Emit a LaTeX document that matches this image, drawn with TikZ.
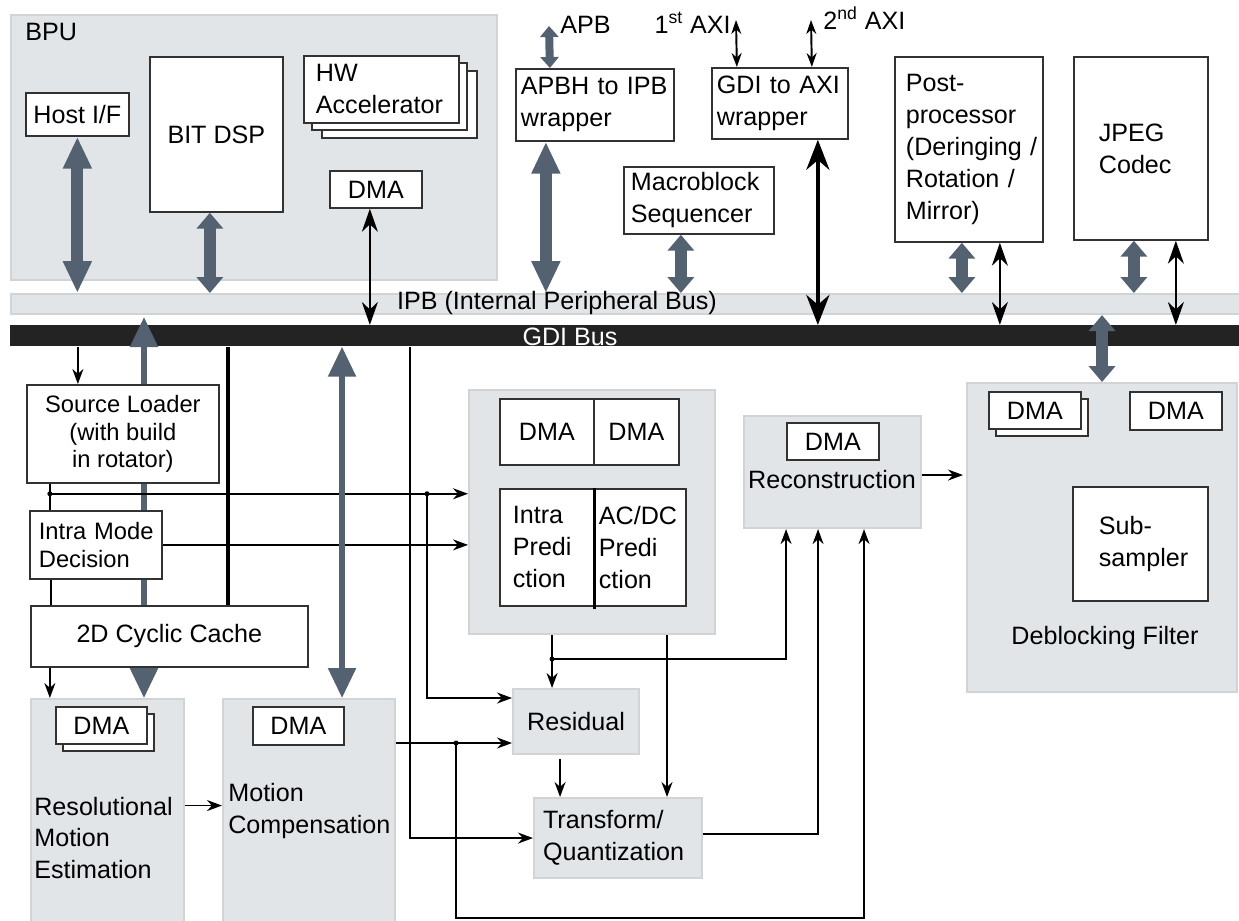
\documentclass[tikz,border=0pt]{standalone}
\usepackage{fontspec}
\setmainfont{Liberation Sans}
\usetikzlibrary{arrows.meta, shadows}
\definecolor{zonefill}{RGB}{225,229,231}
\definecolor{zoneline}{RGB}{208,212,214}
\definecolor{busgray}{RGB}{83,97,113}
\definecolor{busblack}{RGB}{35,35,35}
\definecolor{boxline}{RGB}{50,50,50}
\newcommand{\bodyfont}{\fontsize{14.3}{18.2}\selectfont}
\newcommand{\tightfont}{\fontsize{13.5}{15.6}\selectfont}

\begin{document}
\begin{tikzpicture}[
    x=0.02cm, y=-0.02cm,
    blk/.style={
        rectangle, draw=boxline, fill=white, line width=1pt,
        inner sep=0pt, font=\bodyfont,
    },
    zone/.style={
        rectangle, draw=zoneline, fill=zonefill, line width=1.2pt,
        inner sep=0pt, font=\bodyfont,
    },
    lbl/.style={inner sep=0pt, font=\bodyfont},
    bigbus/.style={{Triangle[width=0.54cm,length=0.64cm]}-{Triangle[width=0.54cm,length=0.64cm]},
        line width=0.24cm, draw=busgray},
    thinbus/.style={{Triangle[width=0.54cm,length=0.6cm]}-{Triangle[width=0.54cm,length=0.6cm]},
        line width=0.11cm, draw=busgray},
    smallbus/.style={{Triangle[width=0.52cm,length=0.32cm]}-{Triangle[width=0.52cm,length=0.32cm]},
        line width=0.24cm, draw=busgray},
    bilink/.style={{Stealth[length=0.46cm,width=0.32cm]}-{Stealth[length=0.46cm,width=0.32cm]},
        line width=1.3pt},
    axilink/.style={{Stealth[length=0.28cm,width=0.2cm]}-{Stealth[length=0.28cm,width=0.2cm]},
        line width=1.1pt},
    sig/.style={-{Stealth[length=0.3cm,width=0.22cm]}, line width=1pt},
    wire/.style={line width=1pt},
]
\useasboundingbox (0,0) rectangle (1239,920);

% --- Gray areas and the two buses ---
\node[zone, anchor=north west, minimum width=9.72cm, minimum height=5.30cm] (bpu) at (10,14) {};
\node[zone, anchor=north west, minimum width=24.8cm, minimum height=0.40cm] (ipb) at (10,293) {};
\node[fill=busblack, inner sep=0pt, anchor=north west, minimum width=24.8cm, minimum height=0.42cm] (gdi) at (10,325) {};
\node[zone, anchor=north west, minimum width=4.92cm, minimum height=4.88cm] (intra) at (468,389) {};
\node[zone, anchor=north west, minimum width=3.54cm, minimum height=2.24cm] (recon) at (743,415) {};
\node[zone, anchor=north west, minimum width=5.40cm, minimum height=6.18cm] (deblock) at (966,382) {};
\node[zone, anchor=north west, minimum width=3.06cm, minimum height=4.52cm] (rme) at (30,698) {};
\node[zone, anchor=north west, minimum width=3.44cm, minimum height=4.52cm] (mc) at (222,698) {};
\node[zone, anchor=north west, minimum width=2.52cm, minimum height=1.30cm] (residual) at (512,688) {Residual};
\node[zone, anchor=north west, minimum width=3.36cm, minimum height=1.60cm,
      align=left, text width=3.0cm] (transform) at (533,797) {Transform/\\Quantization};

\coordinate (gdiup) at ([yshift=0.16cm]gdi.north);
\coordinate (cachetap) at (144,666);

% --- Cache path to the bus, behind the boxes ---
\draw[thinbus] (cachetap |- rme.north) -- (cachetap |- gdiup);

% --- BPU ---
\node[blk, anchor=north west, minimum width=2.06cm, minimum height=0.86cm] (host) at (25,92) {Host I/F};
\node[blk, anchor=north west, minimum width=2.66cm, minimum height=3.10cm] (bitdsp) at (149,56) {BIT DSP};
\node[blk, anchor=north west, minimum width=3.10cm, minimum height=1.34cm, align=left, text width=2.62cm,
      copy shadow={shadow xshift=0.36cm, shadow yshift=-0.3cm},
      copy shadow={shadow xshift=0.16cm, shadow yshift=-0.14cm}] (hwacc) at (303,55) {HW\\Accelerator};
\node[blk, anchor=north west, minimum width=1.84cm, minimum height=0.74cm] (bpudma) at (329,170) {DMA};

% --- Top row ---
\node[blk, anchor=north west, minimum width=3.16cm, minimum height=1.44cm, align=left, text width=2.96cm] (apbh) at (515,68) {\mbox{APBH to IPB}\\wrapper};
\node[blk, anchor=north west, minimum width=2.72cm, minimum height=1.42cm, align=left, text width=2.52cm] (gdiaxi) at (711,67) {\mbox{GDI to AXI}\\wrapper};
\node[blk, anchor=north west, minimum width=3.00cm, minimum height=1.34cm, align=left, text width=2.72cm] (mbseq) at (623,166) {Macroblock\\Sequencer};
\node[blk, anchor=north west, minimum width=2.96cm, minimum height=3.70cm, align=left, text width=2.52cm] (post) at (894,56)
    {Post-\\processor\\\mbox{(Deringing /}\\\mbox{Rotation /}\\Mirror)};
\node[blk, anchor=north west, minimum width=2.68cm, minimum height=3.66cm, align=left, text width=1.68cm] (jpeg) at (1073,56) {JPEG\\Codec};

% --- Left column ---
\node[blk, anchor=north west, minimum width=3.84cm, minimum height=1.96cm, align=center, font=\tightfont] (srcload) at (26,384)
    {Source Loader\\(with build\\in rotator)};
\node[blk, anchor=north west, minimum width=2.64cm, minimum height=1.36cm, align=left, text width=2.28cm, font=\tightfont] (imd) at (29,510)
    {\mbox{Intra Mode}\\Decision};
\node[blk, anchor=north west, minimum width=5.54cm, minimum height=1.22cm] (cache) at (30,605) {2D Cyclic Cache};
\node[blk, anchor=north west, minimum width=1.82cm, minimum height=0.74cm,
      copy shadow={shadow xshift=0.14cm, shadow yshift=-0.14cm}] (rmedma) at (55,706) {DMA};
\node[blk, anchor=north west, minimum width=1.82cm, minimum height=0.76cm] (mcdma) at (252,706) {DMA};

% --- Intra prediction ---
\node[blk, anchor=north west, minimum width=1.88cm, minimum height=1.32cm] (dmaa) at (499,398) {DMA};
\node[blk, anchor=north west, minimum width=1.70cm, minimum height=1.32cm] (dmab) at (593,398) {DMA};
\node[blk, anchor=north west, minimum width=1.88cm, minimum height=2.34cm, align=left, text width=1.36cm] (ipred) at (499,488)
    {Intra\\Predi\\ction};
\node[blk, anchor=north west, minimum width=1.84cm, minimum height=2.34cm, align=left, text width=1.64cm] (acdc) at (593,488)
    {AC/DC\\Predi\\ction};
\draw[line width=1.6pt] (ipred.north east) -- ([yshift=-0.04cm]ipred.south east);

% --- Reconstruction and deblocking ---
\node[blk, anchor=north west, minimum width=1.84cm, minimum height=0.74cm] (recdma) at (786,422) {DMA};
\node[blk, anchor=north west, minimum width=1.84cm, minimum height=0.74cm,
      copy shadow={shadow xshift=0.14cm, shadow yshift=-0.14cm}] (dbdma) at (988,391) {DMA};
\node[blk, anchor=north west, minimum width=1.84cm, minimum height=0.76cm] (dbdmb) at (1129,391) {DMA};
\node[blk, anchor=north west, minimum width=2.70cm, minimum height=2.28cm, align=left, text width=1.66cm] (subs) at (1072,486)
    {Sub-\\sampler};

% --- Labels ---
\node[lbl, anchor=base west] (bpulbl) at (25,40) {BPU};
\node[lbl] (ipblbl) at (557,303) {IPB (Internal Peripheral Bus)};
\node[lbl, text=white] (gdilbl) at (570,337) {GDI Bus};
\node[lbl, anchor=base west] (apblbl) at (560,33) {APB};
\node[lbl, anchor=base east] (axi1lbl) at (731,33) {1\textsuperscript{st} AXI};
\node[lbl, anchor=base west] (axi2lbl) at (823,29) {2\textsuperscript{nd} AXI};
\node[lbl] (reclbl) at (832,480) {Reconstruction};
\node[lbl] (dblbl) at (1105,638) {Deblocking Filter};
\node[lbl, anchor=west, align=left] (rmelbl) at (34,838) {Resolutional\\Motion\\Estimation};
\node[lbl, anchor=west, align=left] (mclbl) at (228,811) {Motion\\Compensation};

% --- Bus links ---
\coordinate (apbend) at (549,26);
\coordinate (axi1end) at (736,20);
\coordinate (axi2end) at (811,20);
\draw[bigbus] (host.south) -- (host.south |- ipb.north);
\draw[smallbus] ([xshift=-0.13cm]bitdsp.south) -- ([xshift=-0.13cm]bitdsp.south |- ipb.north);
\draw[bilink] ([xshift=-0.12cm]bpudma.south) -- ([xshift=-0.12cm]bpudma.south |- gdi.north);
\draw[smallbus, line width=0.16cm, {Triangle[width=0.36cm,length=0.22cm]}-{Triangle[width=0.36cm,length=0.22cm]}]
    ([xshift=-0.90cm]apbh.north) -- (apbend);
\draw[bigbus] ([xshift=-0.98cm]apbh.south) -- ([xshift=-0.98cm]apbh.south |- ipb.north);
\draw[axilink] ([xshift=-0.86cm]gdiaxi.north) -- (axi1end);
\draw[axilink] ([xshift=0.64cm]gdiaxi.north) -- (axi2end);
\draw[{Stealth[length=0.6cm,width=0.46cm]}-{Stealth[length=0.6cm,width=0.46cm]}, line width=2.6pt]
    ([xshift=0.76cm]gdiaxi.south) -- ([xshift=0.76cm]gdiaxi.south |- gdi.north);
\draw[smallbus] ([xshift=-0.36cm]mbseq.south) -- ([xshift=-0.36cm]mbseq.south |- ipb.north);
\draw[smallbus] ([xshift=-0.14cm]post.south) -- ([xshift=-0.14cm]post.south |- ipb.north);
\draw[bilink] ([xshift=0.62cm]post.south) -- ([xshift=0.62cm]post.south |- gdi.north);
\draw[smallbus] ([xshift=-0.14cm]jpeg.south) -- ([xshift=-0.14cm]jpeg.south |- ipb.north);
\draw[bilink] ([xshift=0.70cm]jpeg.south) -- ([xshift=0.70cm]jpeg.south |- gdi.north);
\draw[smallbus] (deblock.north) -- (deblock.north |- ipb.south);

% --- Left column wiring ---
\draw[sig] ([xshift=-0.90cm]srcload.north |- gdi.south) -- ([xshift=-0.90cm]srcload.north);
\coordinate (split1) at ([xshift=-1.46cm,yshift=-0.2cm]srcload.south);
\coordinate (split2) at ([xshift=-0.82cm]split1 -| intra.west);
\draw[wire] ([xshift=-1.46cm]srcload.south) -- (split1 |- imd.north);
\draw[sig] (split1) -- (split1 -| intra.west);
\draw[sig] (split2) |- ([yshift=-0.2cm]residual.north west);
\draw[sig] (imd.east) -- (imd.east -| intra.west);
\draw[wire] ([xshift=-0.90cm]imd.south) -- ([xshift=-0.90cm]imd.south |- cache.north);
\draw[line width=2pt] ([xshift=1.17cm]cache.north |- gdi.south) -- ([xshift=1.17cm]cache.north);
\draw[sig] ([xshift=-2.39cm]cache.south) -- ([xshift=-2.39cm]cache.south |- rme.north);
\draw[thinbus] ([xshift=0.66cm]mc.north |- gdi.south) -- ([xshift=0.66cm]mc.north);
\draw[sig] ([xshift=0.28cm]mc.north east |- gdi.south) |- (transform.west);
\draw[sig] ([yshift=0.13cm]rme.east) -- ([yshift=0.13cm]rme.east -| mc.west);

% --- Datapath wiring ---
\coordinate (split3) at ([xshift=1.2cm,yshift=-0.9cm]mc.north east);
\draw[sig] ([yshift=-0.9cm]mc.north east) -- ([yshift=-0.9cm]mc.north east -| residual.west);
\draw[sig] (split3) -- ++(0,175) -| ([xshift=0.63cm]recon.south);
\draw[sig] ([xshift=-0.80cm]intra.south) -- ([xshift=-0.80cm]intra.south |- residual.north);
\coordinate (split4) at ([xshift=-0.80cm,yshift=-0.48cm]intra.south);
\draw[sig] (split4) -| ([xshift=-0.93cm]recon.south);
\draw[sig] ([xshift=1.50cm]intra.south) -- ([xshift=1.50cm]intra.south |- transform.north);
\draw[sig] ([xshift=-0.32cm,yshift=-0.08cm]residual.south) -- ([xshift=-0.32cm]residual.south |- transform.north);
\draw[sig] ([yshift=0.08cm]transform.east) -| ([xshift=-0.29cm]recon.south);
\draw[sig] ([yshift=-0.06cm]recon.east) -- ([yshift=-0.06cm,xshift=-0.06cm]recon.east -| deblock.west);

\foreach \p in {split1, split2, split3, split4}
    \fill (\p) circle (0.05cm);

\end{tikzpicture}
\end{document}
